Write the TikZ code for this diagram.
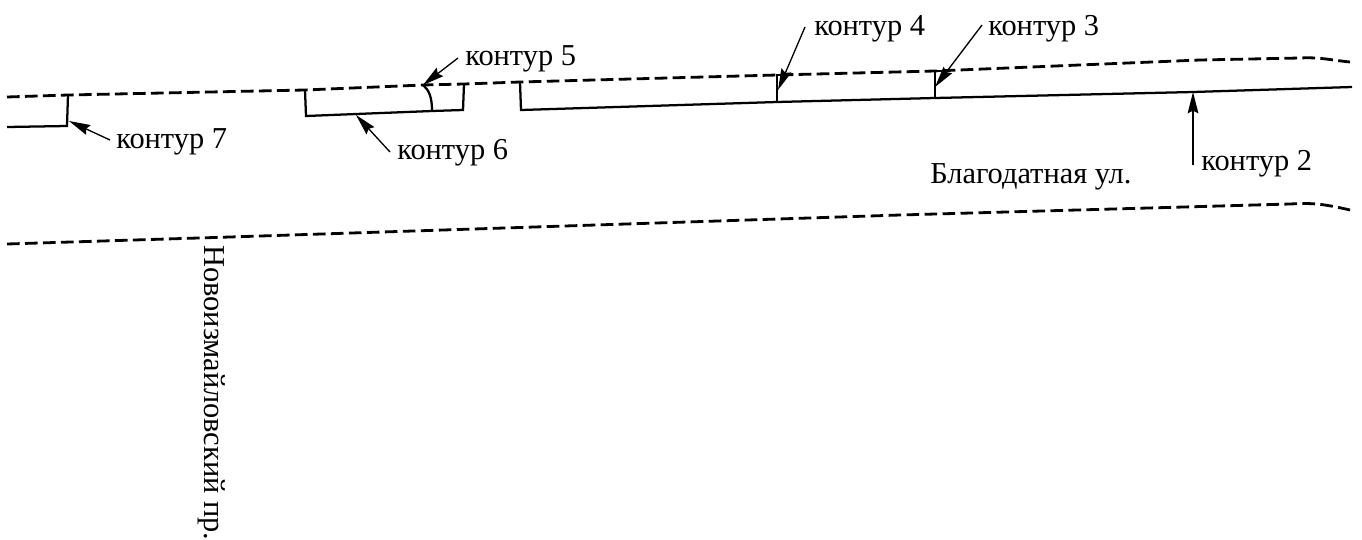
\documentclass[tikz,border=0pt]{standalone}
\usepackage{fontspec}
\setmainfont{Liberation Serif}
\usetikzlibrary{arrows.meta}
\tikzset{
  road/.style={line width=2.1pt,dash pattern=on 9.5pt off 4pt},
  wall/.style={line width=1.7pt,line join=miter},
  lead/.style={line width=1pt,-{Stealth[length=16pt,width=8pt,inset=2pt]}},
  lab/.style={inner sep=0pt,font=\fontsize{22.8pt}{24pt}\selectfont,text=black}
}
\begin{document}
\begin{tikzpicture}[x=0.75pt,y=-0.75pt]
\useasboundingbox (0,0) rectangle (1362,539);
% named points
\coordinate (tl) at (7,97);
\coordinate (t7) at (68,95);
\coordinate (t6) at (305,90);
\coordinate (t5) at (423,85);
\coordinate (t6b) at (464,84);
\coordinate (t2) at (520,82);
\coordinate (t4) at (777,75);
\coordinate (t3) at (935,71);
\coordinate (tr) at (1300,58);
\coordinate (te) at (1350,62);
\coordinate (b4) at (777,102);
\coordinate (b3) at (935,98);
\coordinate (b2) at (1193,92);
\coordinate (b6) at (356,115);
\coordinate (c7) at (69,121);
% roads
\draw[road] (tl) -- (t7) -- (t6) -- (t5) -- (t6b) -- (t2) -- (t4) -- (t3) -- (1200,60) -- (tr) .. controls (1320,57) and (1330,60) .. (te);
\draw[road] (7,244) -- (230,237) -- (900,215) -- (1290,204) .. controls (1310,203) and (1320,203) .. (1350,210);
% walls
\draw[wall] (7,127) -- (67,126) -- (t7);
\draw[wall] (t6) -- (306,116) -- (432,111) -- (463,110) -- (t6b);
\draw[wall] (t5) .. controls (429,90) and (432,97) .. (432,111);
\draw[wall] (t2) -- (521,110) -- (b4) -- (b3) -- (b2) -- (1352,87);
\draw[line width=1.1pt] (b4) -- (t4) -- (782,75);
\draw[line width=1.1pt] (b3) -- (t3) -- (945,71);
% labels
\node[lab,anchor=west] (n7) at (116,142) {контур 7};
\node[lab,anchor=west] (n6) at (397,153) {контур 6};
\node[lab,anchor=west] (n5) at (465,59) {контур 5};
\node[lab,anchor=west] (n4) at (814,29) {контур 4};
\node[lab,anchor=west] (n3) at (988,29) {контур 3};
\node[lab,anchor=west] (n2) at (1201,164) {контур 2};
\node[lab,anchor=west] (ul) at (930,177) {Благодатная ул.};
\node[lab,anchor=west,rotate=-90] (pr) at (212,245) {Новоизмайловский пр.};
% leaders
\draw[lead] (n7.west) ++(-6,-2) coordinate (s7) (s7) -- (c7);
\draw[lead] (n6.west) ++(-7,-1) coordinate (s6) (s6) -- (b6);
\draw[lead] (n5.west) ++(-7,-1) coordinate (s5) (s5) -- (t5);
\draw[lead] (n4.west) ++(-9,-2) coordinate (s4) (s4) -- (778,90);
\draw[lead] (n3.west) ++(-6,-4) coordinate (s3) (s3) -- (935,87);
\draw[lead] (n2.west) ++(-8,1) coordinate (s2) (s2) -- (b2);
\end{tikzpicture}
\end{document}
